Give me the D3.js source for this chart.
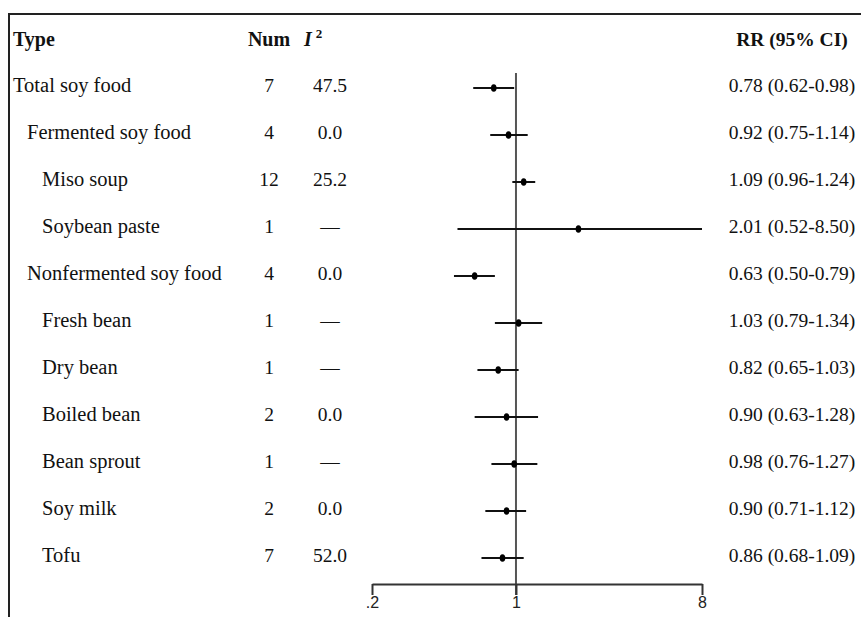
<!DOCTYPE html>
<html>
<head>
<meta charset="utf-8">
<script src="https://cdn.jsdelivr.net/npm/d3@7/dist/d3.min.js"></script>
<style>
  html, body { margin: 0; padding: 0; background: #fff; }
  svg { display: block; }
</style>
</head>
<body>
<svg id="chart" width="861" height="617"></svg>
<script>
// ---- data ----
const types = ["Total soy food", "Fermented soy food", "Miso soup", "Soybean paste",
  "Nonfermented soy food", "Fresh bean", "Dry bean", "Boiled bean", "Bean sprout", "Soy milk", "Tofu"];
const levels = [0, 1, 2, 2, 1, 2, 2, 2, 2, 2, 2];
const nums = [7, 4, 12, 1, 4, 1, 1, 2, 1, 2, 7];
const i2 = ["47.5", "0.0", "25.2", "—", "0.0", "—", "—", "0.0", "—", "0.0", "52.0"];
const rr = [0.78, 0.92, 1.09, 2.01, 0.63, 1.03, 0.82, 0.90, 0.98, 0.90, 0.86];
const lo = [0.62, 0.75, 0.96, 0.52, 0.50, 0.79, 0.65, 0.63, 0.76, 0.71, 0.68];
const hi = [0.98, 1.14, 1.24, 8.50, 0.79, 1.34, 1.03, 1.28, 1.27, 1.12, 1.09];
const tickValues = [0.2, 1, 8];
const tickLabels = [".2", "1", "8"];

const svg = d3.select("#chart");
const serif = "'Liberation Serif', 'DejaVu Serif', serif";

const x = d3.scaleLog().domain([0.2, 8]).range([372, 702]).clamp(true);
const y = d3.scalePoint().domain(types).range([88, 558]);
const step = y.step();
const headerY = y(types[0]) - step;
const axisY = 584;

// frame
svg.append("line").attr("x1", 9).attr("x2", 9).attr("y1", 13).attr("y2", 617)
  .attr("stroke", "#222").attr("stroke-width", 2);
svg.append("line").attr("x1", 8).attr("x2", 861).attr("y1", 14).attr("y2", 14)
  .attr("stroke", "#222").attr("stroke-width", 2);

// headers
const hdr = svg.append("g").attr("font-family", serif).attr("fill", "#111");
hdr.append("text").attr("x", 13).attr("y", headerY + 5).attr("font-size", 20)
  .attr("font-weight", "bold").text("Type");
hdr.append("text").attr("x", 269).attr("y", headerY + 5).attr("font-size", 20)
  .attr("font-weight", "bold").attr("text-anchor", "middle").text("Num");
const it = hdr.append("text").attr("x", 304).attr("y", headerY + 5).attr("font-size", 20);
it.append("tspan").attr("font-style", "italic").attr("font-weight", "bold").text("I");
it.append("tspan").attr("dx", 4).attr("dy", -8).attr("font-size", 13).attr("font-weight", "bold").text("2");
hdr.append("text").attr("x", 792).attr("y", headerY + 5).attr("font-size", 19.5)
  .attr("font-weight", "bold").attr("text-anchor", "middle").text("RR (95% CI)");

// rows text
const rows = svg.append("g").attr("font-family", serif).attr("fill", "#111");
const indent = [13, 27, 42];
types.forEach((t, i) => {
  const yy = y(t) + 4;
  rows.append("text").attr("x", indent[levels[i]]).attr("y", yy).attr("font-size", 20.5).text(t);
  rows.append("text").attr("x", 269).attr("y", yy).attr("font-size", 19.5)
    .attr("text-anchor", "middle").text(nums[i]);
  rows.append("text").attr("x", 330).attr("y", yy).attr("font-size", 19.5)
    .attr("text-anchor", "middle").text(i2[i]);
  rows.append("text").attr("x", 792).attr("y", yy).attr("font-size", 19.5)
    .attr("text-anchor", "middle")
    .text(`${rr[i].toFixed(2)} (${lo[i].toFixed(2)}-${hi[i].toFixed(2)})`);
});

// reference line at 1
svg.append("line").attr("x1", x(1)).attr("x2", x(1)).attr("y1", 73).attr("y2", axisY + 11)
  .attr("stroke", "#555").attr("stroke-width", 2);

// axis
const axis = d3.axisBottom(x).tickValues(tickValues)
  .tickFormat((d, i) => tickLabels[i]).tickSize(11).tickSizeOuter(0);
const ag = svg.append("g").attr("transform", `translate(0,${axisY})`).call(axis);
ag.select(".domain").attr("stroke", "#333").attr("stroke-width", 2);
ag.selectAll(".tick line").attr("stroke", "#333").attr("stroke-width", 2);
ag.selectAll(".tick text").attr("font-family", "'Liberation Sans Narrow', 'Liberation Sans', sans-serif")
  .attr("font-size", 16).attr("fill", "#222").attr("y", 13).attr("dy", "0.71em");

// CIs
const ci = svg.append("g");
types.forEach((t, i) => {
  ci.append("line").attr("x1", x(lo[i])).attr("x2", x(hi[i]))
    .attr("y1", y(t)).attr("y2", y(t)).attr("stroke", "#111").attr("stroke-width", 2);
  ci.append("ellipse").attr("cx", x(rr[i])).attr("cy", y(t)).attr("rx", 2.8).attr("ry", 3.8)
    .attr("fill", "#000");
});
</script>
</body>
</html>
